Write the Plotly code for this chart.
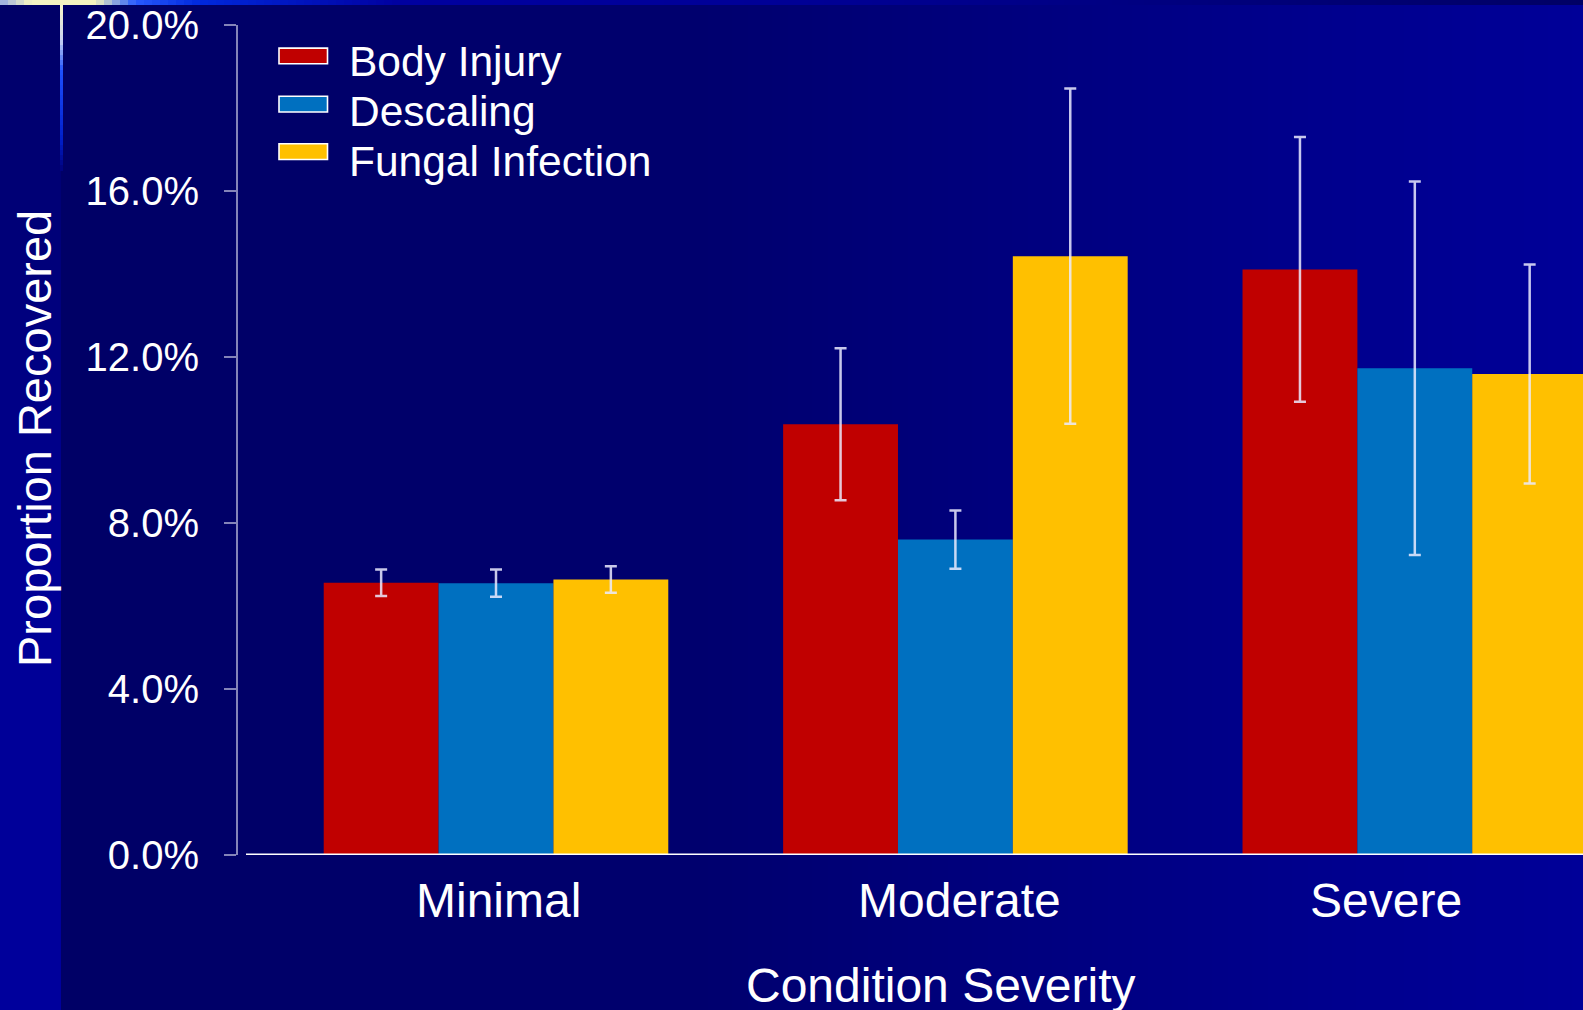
import plotly.graph_objects as go

# ---------------- data ----------------
categories = ["Minimal", "Moderate", "Severe"]
series_names = ["Body Injury", "Descaling", "Fungal Infection"]
body_injury = [0.0656, 0.1038, 0.1411]
body_injury_err = [0.0032, 0.0183, 0.0319]
descaling = [0.0655, 0.0760, 0.1173]
descaling_err = [0.0033, 0.0070, 0.0450]
fungal_infection = [0.0664, 0.1443, 0.1159]
fungal_infection_err = [0.0032, 0.0404, 0.0264]
y_tick_values = [0.0, 0.04, 0.08, 0.12, 0.16, 0.20]
y_tick_labels = ["0.0%", "4.0%", "8.0%", "12.0%", "16.0%", "20.0%"]
x_title = "Condition Severity"
y_title = "Proportion Recovered"

# ---------------- style ----------------
COLORS = ["#c00000", "#0070c0", "#ffc000"]
FONT = "Arial, 'Liberation Sans', sans-serif"
W, H = 1583, 1010
L, R, T, B = 238, 1583, 25, 855
CAT_LABEL_SHIFT = [2, 4, -29]


def px_x(x):
    return (x - L) / (R - L)


def px_y(y):
    return (B - y) / (B - T)


def lerp_color(stops, v):
    for (a, ca), (b, cb) in zip(stops, stops[1:]):
        if a <= v <= b:
            t = 0 if b == a else (v - a) / (b - a)
            c = [round(ca[i] + (cb[i] - ca[i]) * t) for i in range(3)]
            return "rgb(%d,%d,%d)" % tuple(c)
    c = stops[-1][1] if v > stops[-1][0] else stops[0][1]
    return "rgb(%d,%d,%d)" % tuple(c)


shapes = []
# main background: horizontal gradient
main_stops = [(62, (0, 0, 102)), (700, (0, 0, 110)), (1000, (0, 0, 125)),
              (1300, (0, 0, 140)), (1583, (0, 0, 152))]
step = 8
x = 60
while x < W:
    shapes.append(dict(type="rect", xref="paper", yref="paper", layer="below",
                       x0=px_x(x), x1=px_x(min(x + step + 1, W)), y0=px_y(H), y1=px_y(0),
                       fillcolor=lerp_color(main_stops, x + step / 2), line=dict(width=0)))
    x += step
# left column: vertical gradient
left_stops = [(0, (0, 0, 102)), (300, (0, 0, 125)), (600, (0, 0, 150)), (1010, (0, 0, 156))]
y = 0
while y < H:
    shapes.append(dict(type="rect", xref="paper", yref="paper", layer="below",
                       x0=px_x(0), x1=px_x(61), y0=px_y(min(y + 11, H)), y1=px_y(y),
                       fillcolor=lerp_color(left_stops, y + 5), line=dict(width=0)))
    y += 10
# top strip
top_stops = [(0, (150, 170, 225)), (30, (245, 245, 195)), (95, (245, 245, 190)),
             (135, (40, 90, 255)), (200, (0, 40, 220)), (400, (0, 0, 160)),
             (800, (0, 0, 150)), (1200, (0, 0, 125)), (1583, (0, 0, 100))]
x = 0
while x < W:
    shapes.append(dict(type="rect", xref="paper", yref="paper", layer="below",
                       x0=px_x(x), x1=px_x(min(x + 9, W)), y0=px_y(5), y1=px_y(0),
                       fillcolor=lerp_color(top_stops, x + 4), line=dict(width=0)))
    x += 8
# vertical accent line
vl_stops = [(5, (250, 248, 200)), (40, (200, 210, 240)), (70, (30, 80, 255)),
            (140, (0, 30, 200)), (170, (0, 0, 120))]
y = 5
while y < 170:
    shapes.append(dict(type="rect", xref="paper", yref="paper", layer="below",
                       x0=px_x(60), x1=px_x(63), y0=px_y(y + 6), y1=px_y(y),
                       fillcolor=lerp_color(vl_stops, y + 2), line=dict(width=0)))
    y += 5

# x axis baseline (white)
shapes.append(dict(type="line", xref="paper", yref="y", x0=px_x(246), x1=1, y0=0, y1=0,
                   line=dict(color="white", width=3), layer="above"))

# ---------------- traces ----------------
fig = go.Figure()
values = [body_injury, descaling, fungal_infection]
errors = [body_injury_err, descaling_err, fungal_infection_err]
for name, vals, errs, col in zip(series_names, values, errors, COLORS):
    fig.add_trace(go.Bar(
        x=categories, y=vals, name=name, marker=dict(color=col, line=dict(width=0)),
        error_y=dict(type="data", array=errs, visible=True,
                     color="rgba(235,235,255,0.85)", thickness=2.5, width=6),
        showlegend=False,
    ))

# manual legend (swatches + text)
sw_tops = [47.3, 95.5, 143.0]
txt_centers = [61.5, 111.7, 161.7]
annotations = []
for name, col, top, tc in zip(series_names, COLORS, sw_tops, txt_centers):
    shapes.append(dict(type="rect", xref="paper", yref="paper",
                       x0=px_x(279), x1=px_x(327.5), y0=px_y(top + 16.5), y1=px_y(top + 0.8),
                       fillcolor=col, line=dict(color="white", width=1.6)))
    annotations.append(dict(text=name, xref="paper", yref="paper", x=px_x(347), y=px_y(tc),
                            xanchor="left", yanchor="middle", showarrow=False,
                            font=dict(family=FONT, size=42.5, color="white")))

# category labels under each group
for cat, sh in zip(categories, CAT_LABEL_SHIFT):
    annotations.append(dict(text=cat, xref="x", yref="paper", x=cat, y=px_y(900),
                            xanchor="center", yanchor="middle", showarrow=False, xshift=sh,
                            font=dict(family=FONT, size=48, color="white")))

annotations.append(dict(text=x_title, xref="paper", yref="paper", x=px_x(941), y=px_y(985),
                        xanchor="center", yanchor="middle", showarrow=False,
                        font=dict(family=FONT, size=48, color="white")))
annotations.append(dict(text=y_title, xref="paper", yref="paper", x=px_x(35), y=px_y(439),
                        xanchor="center", yanchor="middle", showarrow=False, textangle=-90,
                        font=dict(family=FONT, size=47, color="white")))

fig.update_layout(
    width=W, height=H,
    margin=dict(l=L, r=W - R, t=T, b=H - B, pad=0),
    paper_bgcolor="#000066",
    plot_bgcolor="rgba(0,0,0,0)",
    barmode="group", bargap=0.25, bargroupgap=0,
    shapes=shapes, annotations=annotations,
    showlegend=False,
    font=dict(family=FONT, color="white"),
    xaxis=dict(
        type="category", range=[-0.5616, 2.3661],
        showline=False, showgrid=False, zeroline=False, ticks="",
        showticklabels=False, fixedrange=True,
    ),
    yaxis=dict(
        range=[0, 0.20], tickvals=y_tick_values, ticktext=y_tick_labels,
        showline=True, linecolor="rgba(165,165,205,0.8)", linewidth=2,
        ticks="outside", ticklen=12, tickwidth=2, tickcolor="rgba(165,165,205,0.8)",
        showgrid=False, zeroline=False,
        tickfont=dict(family=FONT, size=40, color="white"),
        ticklabelstandoff=17, fixedrange=True,
    ),
)

fig.write_html("out.html", include_plotlyjs=True, config={"displayModeBar": False},
               post_script="document.body.style.margin='0';document.body.style.overflow='hidden';")
